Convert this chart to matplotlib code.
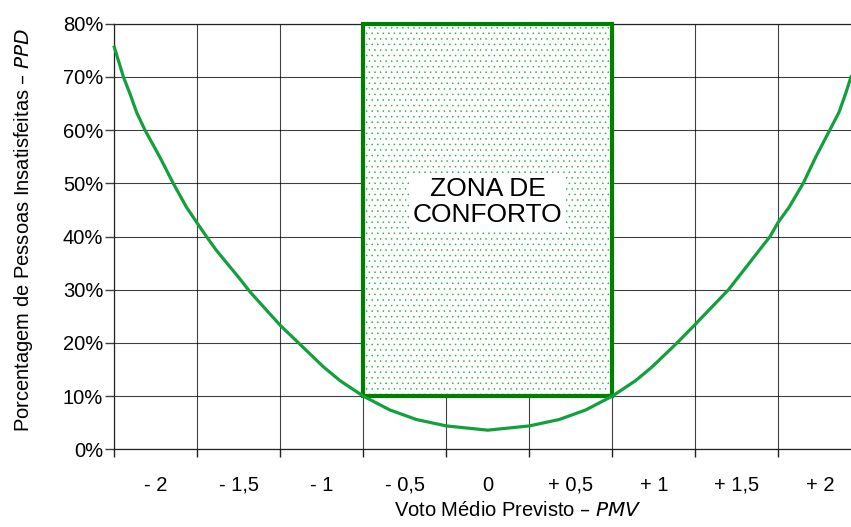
import numpy as np
import matplotlib.pyplot as plt
from matplotlib.patches import Rectangle

plt.rcParams['font.family'] = ['Liberation Sans', 'DejaVu Sans']
plt.rcParams['hatch.linewidth'] = 0.35

# curve: position along the category axis, PPD in %
curve_pos = [0.0, 0.11, 0.19, 0.27, 0.37, 0.55, 0.71, 0.87, 1.0, 1.11, 1.23,
             1.515, 1.635, 2.0, 2.22, 2.52, 2.72, 3.0, 3.32, 3.64, 4.0, 4.5,
             5.0, 5.36, 5.68, 6.0, 6.28, 6.48, 6.78, 7.0, 7.4, 7.5, 7.77, 7.9,
             8.0, 8.13, 8.3, 8.45, 8.62, 8.73, 8.81, 8.876]
curve_ppd = [75.6, 70.0, 66.8, 63.3, 60.0, 54.9, 50.0, 45.5, 42.5, 40.0, 37.4,
             32.0, 29.6, 23.3, 20.0, 15.5, 12.9, 10.0, 7.4, 5.6, 4.4, 3.6,
             4.4, 5.6, 7.4, 10.0, 12.9, 15.5, 20.0, 23.5, 30.0, 32.0, 37.4, 40.0,
             42.7, 45.5, 50.0, 54.9, 60.0, 63.3, 66.8, 70.0]

pmv_labels = ['- 2', '- 1,5', '- 1', '- 0,5', '0', '+ 0,5', '+ 1', '+ 1,5', '+ 2']
ppd_ticks = [0, 10, 20, 30, 40, 50, 60, 70, 80]

# comfort zone (category positions and PPD limits)
zone_x = (3, 6)
zone_y = (10, 80)

fig = plt.figure(figsize=(8.51, 5.27), dpi=100)
ax = fig.add_axes([0.1343, 0.1474, 0.8657, 0.8076])

ax.set_xlim(0, 8.876)
ax.set_ylim(0, 80)

# grid
ax.set_xticks(range(0, 9))
ax.set_xticklabels([])
ax.set_xticks(np.arange(len(pmv_labels)) + 0.5, minor=True)
ax.set_xticklabels(pmv_labels, minor=True, fontsize=14.5)
ax.tick_params(axis='x', which='major', length=5.8, width=1, color='#222222', direction='out')
ax.tick_params(axis='x', which='minor', length=0, pad=19)
ax.set_yticks(ppd_ticks)
ax.set_yticklabels([f'{v}%' for v in ppd_ticks], fontsize=14.5)
ax.tick_params(axis='y', length=6.5, width=1, color='#404040', pad=1.5)
ax.grid(True, which='major', color='black', linewidth=0.8, alpha=0.75)
ax.set_axisbelow(True)
ax.spines['right'].set_visible(False)
for s in ['left', 'bottom', 'top']:
    ax.spines[s].set_linewidth(0.9)
    ax.spines[s].set_color('#222222')

# comfort zone box
w = zone_x[1] - zone_x[0]
h = zone_y[1] - zone_y[0]
ax.add_patch(Rectangle((zone_x[0], zone_y[0]), w, h, facecolor='white',
                       edgecolor='#1fb040', hatch='...', linewidth=0, zorder=3))
ax.add_patch(Rectangle((zone_x[0], zone_y[0]), w, h, facecolor='none',
                       edgecolor='#008000', linewidth=3, zorder=4, clip_on=False))
ax.text(4.5, 46.5, 'ZONA DE\nCONFORTO', ha='center', va='center', fontsize=19,
        linespacing=1.15, zorder=5,
        bbox=dict(facecolor='white', edgecolor='none', pad=2))

# PPD curve
ax.plot(curve_pos, curve_ppd, color='#12a03c', linewidth=2.3, zorder=6,
        solid_joinstyle='round', clip_on=False)

fig.text(0.608, 0.031, 'Voto Médio Previsto – $\\it{PMV}$', ha='center', va='center',
         fontsize=14.5)
fig.text(0.028, 0.5636, 'Porcentagem de Pessoas Insatisfeitas – $\\it{PPD}$',
         ha='center', va='center', rotation=90, fontsize=14.5)

fig.savefig('out.png', dpi=100)
